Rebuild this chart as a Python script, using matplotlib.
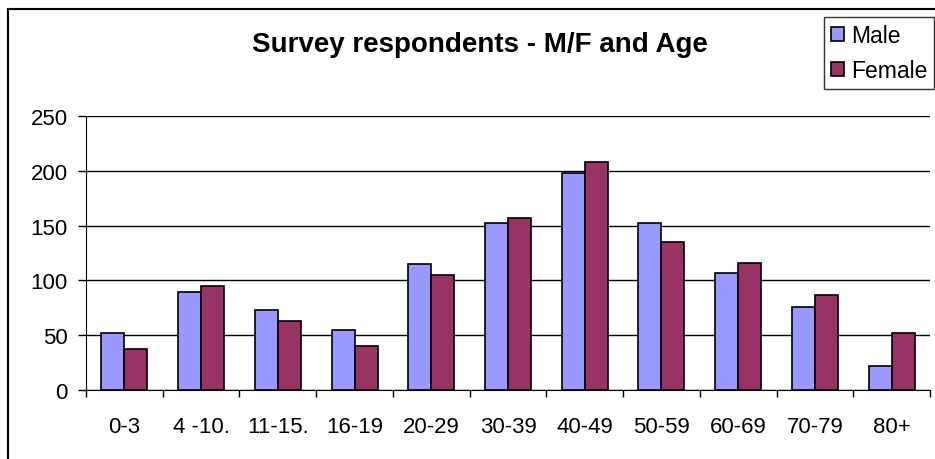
import numpy as np
import matplotlib.pyplot as plt
from matplotlib.patches import Rectangle

plt.rcParams['font.family'] = ['Liberation Sans', 'DejaVu Sans']

# Datos
categories = ['0-3', '4 -10.', '11-15.', '16-19', '20-29', '30-39',
              '40-49', '50-59', '60-69', '70-79', '80+']
male = [52, 89, 73, 55, 115, 152, 198, 152, 107, 76, 22]
female = [37, 95, 63, 40, 105, 157, 208, 135, 116, 87, 52]
y_ticks = [0, 50, 100, 150, 200, 250]

W, H = 935, 460
fig = plt.figure(figsize=(W / 100, H / 100), dpi=100)
ax = fig.add_axes([86 / W, (H - 391) / H, (930 - 86) / W, (391 - 117) / H])

x = np.arange(len(categories))
bw = 0.3
ax.bar(x - bw / 2, male, bw, color='#9999FF', edgecolor='black', linewidth=1.2, label='Male', zorder=3)
ax.bar(x + bw / 2, female, bw, color='#993366', edgecolor='black', linewidth=1.2, label='Female', zorder=3)

ax.set_xlim(-0.5, len(categories) - 0.5)
ax.set_ylim(0, 250)
ax.set_yticks(y_ticks)
ax.tick_params(axis='y', labelsize=16, length=6, width=1, direction='out', pad=7)
ax.set_xticks(x)
ax.set_xticklabels(categories)
ax.set_xticks(np.arange(len(categories) + 1) - 0.5, minor=True)
ax.tick_params(axis='x', which='major', length=0, labelsize=16, pad=19)
ax.tick_params(axis='x', which='minor', length=5, width=1, direction='out')
ax.yaxis.grid(True, color='black', linewidth=1, zorder=0)
for s in ['top', 'right']:
    ax.spines[s].set_visible(False)
ax.spines['left'].set_color('black')
ax.spines['bottom'].set_color('black')

fig.text(480 / W, (H - 45) / H, 'Survey respondents - M/F and Age',
         ha='center', va='center', fontsize=20, fontweight='bold')

fig.legend(loc='upper right', bbox_to_anchor=(934 / W, (H - 18) / H),
           fontsize=16.5, frameon=True, fancybox=False, edgecolor='black',
           handlelength=0.55, handleheight=0.55, handletextpad=0.3,
           borderpad=0.3, labelspacing=0.55, borderaxespad=0)

# Marco exterior del área del gráfico
fig.patches.append(Rectangle((8 / W, -0.1), 1.0, (H - 10) / H + 0.1,
                             transform=fig.transFigure, fill=False,
                             edgecolor='black', linewidth=1.5))

fig.savefig('out.png', dpi=100)
